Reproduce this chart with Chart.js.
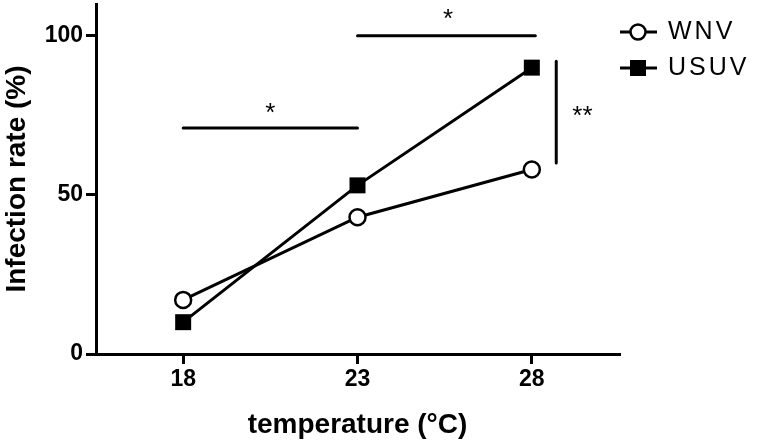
<!DOCTYPE html>
<html>
<head>
<meta charset="utf-8">
<script src="https://cdn.jsdelivr.net/npm/chart.js@4/dist/chart.umd.min.js"></script>
<style>
  html, body { margin: 0; padding: 0; background: #fff; }
  #wrap { width: 757px; height: 442px; }
</style>
</head>
<body>
<div id="wrap"><canvas id="chart" width="757" height="442"></canvas></div>
<script>
// values
const temps = [18, 23, 28];
const wnv = [17, 43, 58];
const usuv = [10, 53, 90];
const xTicks = [18, 23, 28];
const yTicks = [0, 50, 100];

// significance brackets (data units)
const sigLow = [{ x: 18, y: 71 }, { x: 23, y: 71 }];
const sigHigh = [{ x: 23, y: 100 }, { x: 28.1, y: 100 }];
const sigSide = [{ x: 28.7, y: 92 }, { x: 28.7, y: 60 }];
const sigLabels = [
  { x: 20.5, y: 75.5, text: '*' },
  { x: 25.6, y: 105, text: '*' },
  { x: 29.45, y: 74.5, text: '**' }
];

const FONT = '"Liberation Sans", Arial, sans-serif';

const toPts = (xs, ys) => xs.map((x, i) => ({ x: x, y: ys[i] }));

const bracket = (pts) => ({
  data: pts,
  borderColor: '#000',
  borderWidth: 3,
  pointRadius: 0,
  borderCapStyle: 'round'
});

const overlay = {
  id: 'overlay',
  afterDraw(chart) {
    const { ctx, scales } = chart;
    const xs = scales.x, ys = scales.y;
    ctx.save();
    ctx.fillStyle = '#000';
    ctx.textAlign = 'center';
    ctx.textBaseline = 'middle';
    ctx.font = '26px ' + FONT;
    sigLabels.forEach(s => {
      ctx.fillText(s.text, xs.getPixelForValue(s.x), ys.getPixelForValue(s.y));
    });

    // legend
    const items = [
      { label: 'WNV', style: 'circle', y: 32 },
      { label: 'USUV', style: 'rect', y: 68 }
    ];
    ctx.textAlign = 'left';
    ctx.font = '25px ' + FONT;
    ctx.letterSpacing = '3px';
    items.forEach(it => {
      ctx.strokeStyle = '#000';
      ctx.lineWidth = 3;
      ctx.beginPath();
      ctx.moveTo(620, it.y);
      ctx.lineTo(657, it.y);
      ctx.stroke();
      if (it.style === 'circle') {
        ctx.beginPath();
        ctx.arc(638, it.y, 7.5, 0, Math.PI * 2);
        ctx.fillStyle = '#fff';
        ctx.fill();
        ctx.lineWidth = 2.5;
        ctx.stroke();
      } else {
        ctx.fillStyle = '#000';
        ctx.fillRect(630, it.y - 8, 16, 16);
      }
      ctx.fillStyle = '#000';
      ctx.fillText(it.label, 668, it.y);
    });
    ctx.restore();
  }
};

new Chart(document.getElementById('chart'), {
  type: 'line',
  data: {
    datasets: [
      bracket(sigLow),
      bracket(sigHigh),
      bracket(sigSide),
      {
        label: 'WNV',
        data: toPts(temps, wnv),
        borderColor: '#000',
        borderWidth: 3,
        tension: 0,
        pointStyle: 'circle',
        pointRadius: 8,
        pointBackgroundColor: '#fff',
        pointBorderColor: '#000',
        pointBorderWidth: 2.5
      },
      {
        label: 'USUV',
        data: toPts(temps, usuv),
        borderColor: '#000',
        borderWidth: 3,
        tension: 0,
        pointStyle: 'rect',
        pointRadius: 11.3,
        pointBackgroundColor: '#000',
        pointBorderColor: '#000',
        pointBorderWidth: 0
      }
    ]
  },
  options: {
    responsive: false,
    animation: false,
    layout: { autoPadding: false, padding: { top: 4, right: 138, bottom: 0, left: 0 } },
    plugins: {
      legend: { display: false },
      tooltip: { enabled: false }
    },
    scales: {
      x: {
        type: 'linear',
        min: 15.5,
        max: 30.5,
        afterBuildTicks: s => { s.ticks = xTicks.map(v => ({ value: v })); },
        afterFit: s => { s.height = 88; s.paddingLeft = 0; s.paddingRight = 0; },
        border: { display: true, color: '#000', width: 3 },
        grid: { drawOnChartArea: false, color: '#000', lineWidth: 3, tickLength: 10 },
        ticks: { color: '#000', padding: 2, font: { family: FONT, size: 23, weight: 'bold' } },
        title: {
          display: true,
          text: 'temperature (°C)',
          color: '#000',
          padding: { top: 4, bottom: 0 },
          font: { family: FONT, size: 28, weight: 'bold' }
        }
      },
      y: {
        type: 'linear',
        min: 0,
        max: 110,
        afterBuildTicks: s => { s.ticks = yTicks.map(v => ({ value: v })); },
        afterFit: s => { s.width = 96; s.paddingTop = 0; s.paddingBottom = 0; },
        border: { display: true, color: '#000', width: 3 },
        grid: { drawOnChartArea: false, color: '#000', lineWidth: 3, tickLength: 10 },
        ticks: { color: '#000', padding: 3, font: { family: FONT, size: 23, weight: 'bold' } },
        title: {
          display: true,
          text: 'Infection rate (%)',
          color: '#000',
          padding: { top: 0, bottom: 4 },
          font: { family: FONT, size: 28, weight: 'bold' }
        }
      }
    }
  },
  plugins: [overlay]
});
</script>
</body>
</html>
